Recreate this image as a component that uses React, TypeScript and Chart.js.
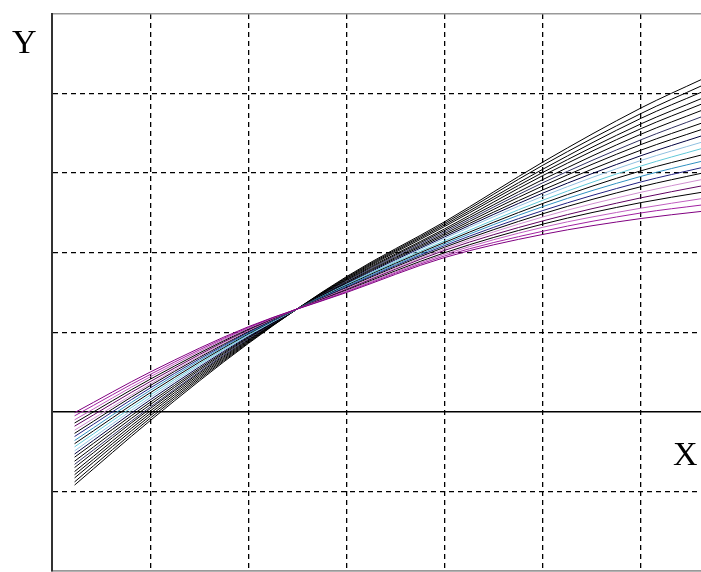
import React, { useEffect, useRef } from "react";
import { Chart, registerables } from "chart.js";

Chart.register(...registerables);

const xPoints = [0.23, 1, 2, 3, 4, 5, 6, 6.62];

// curves, from the flattest (purple) to the steepest (black)
const c00 = [-0.01, 0.5, 1.07, 1.5, 1.94, 2.23, 2.43, 2.52];
const c01 = [-0.05, 0.47, 1.06, 1.51, 1.96, 2.27, 2.5, 2.6];
const c02 = [-0.1, 0.44, 1.05, 1.52, 1.98, 2.32, 2.56, 2.68];
const c03 = [-0.14, 0.41, 1.04, 1.53, 2.0, 2.36, 2.63, 2.76];
const c04 = [-0.18, 0.38, 1.03, 1.54, 2.03, 2.4, 2.69, 2.84];
const c05 = [-0.23, 0.35, 1.02, 1.55, 2.05, 2.45, 2.76, 2.92];
const c06 = [-0.27, 0.33, 1.01, 1.56, 2.07, 2.49, 2.83, 3.0];
const c07 = [-0.31, 0.3, 1.0, 1.57, 2.09, 2.53, 2.89, 3.07];
const c08 = [-0.36, 0.27, 0.99, 1.58, 2.11, 2.58, 2.96, 3.15];
const c09 = [-0.4, 0.24, 0.98, 1.59, 2.13, 2.62, 3.03, 3.23];
const c10 = [-0.44, 0.21, 0.97, 1.6, 2.15, 2.66, 3.09, 3.31];
const c11 = [-0.49, 0.18, 0.96, 1.6, 2.18, 2.71, 3.16, 3.39];
const c12 = [-0.53, 0.15, 0.95, 1.61, 2.2, 2.75, 3.22, 3.47];
const c13 = [-0.57, 0.12, 0.94, 1.62, 2.22, 2.79, 3.29, 3.55];
const c14 = [-0.62, 0.09, 0.93, 1.63, 2.24, 2.84, 3.36, 3.63];
const c15 = [-0.66, 0.06, 0.92, 1.64, 2.26, 2.88, 3.42, 3.71];
const c16 = [-0.7, 0.04, 0.91, 1.65, 2.28, 2.92, 3.49, 3.79];
const c17 = [-0.75, 0.01, 0.9, 1.66, 2.3, 2.97, 3.56, 3.87];
const c18 = [-0.79, -0.02, 0.89, 1.67, 2.33, 3.01, 3.62, 3.94];
const c19 = [-0.83, -0.05, 0.88, 1.68, 2.35, 3.05, 3.69, 4.02];
const c20 = [-0.88, -0.08, 0.87, 1.69, 2.37, 3.1, 3.75, 4.1];
const c21 = [-0.92, -0.11, 0.86, 1.7, 2.39, 3.14, 3.82, 4.18];

const curves = [c00, c01, c02, c03, c04, c05, c06, c07, c08, c09, c10, c11, c12, c13, c14, c15, c16, c17, c18, c19, c20, c21];

const curveColors = [
  "#800080", "#a020a0", "#c060c0", "#000000", "#600060", "#d090d0",
  "#000000", "#202080", "#3090c0", "#000000", "#60c8d8", "#90c0e0",
  "#000040", "#000000", "#000000", "#303060", "#000000", "#000000",
  "#000000", "#000000", "#000000", "#000000",
];

export default function App() {
  const ref = useRef<HTMLCanvasElement | null>(null);

  useEffect(() => {
    if (!ref.current) return;
    const chart = new Chart(ref.current, {
      type: "line",
      data: {
        datasets: curves.map((c, i) => ({
          data: xPoints.map((x, j) => ({ x, y: c[j] })),
          borderColor: curveColors[i],
          borderWidth: 1,
          pointRadius: 0,
          cubicInterpolationMode: "monotone" as const,
          fill: false,
        })),
      },
      options: {
        animation: false,
        responsive: false,
        layout: { padding: { left: 52, top: 14, bottom: 1, right: 0 } },
        plugins: { legend: { display: false }, tooltip: { enabled: false } },
        scales: {
          x: {
            type: "linear",
            min: 0,
            max: 6.61,
            ticks: { display: false, stepSize: 1, includeBounds: false },
            grid: {
              drawTicks: false,
              color: (ctx: any) => (ctx.tick && ctx.tick.value === 0 ? "#333" : "#000"),
              lineWidth: (ctx: any) => (ctx.tick && ctx.tick.value === 0 ? 2 : 1.3),
            },
            border: {
              display: true,
              color: "#999",
              width: 1.5,
              dash: (ctx: any) => (ctx.tick && ctx.tick.value === 0 ? [] : [5, 4]),
            },
          },
          y: {
            type: "linear",
            min: -2,
            max: 5,
            ticks: { display: false, stepSize: 1 },
            grid: {
              drawTicks: false,
              color: (ctx: any) => {
                const v = ctx.tick ? ctx.tick.value : null;
                if (v === 5 || v === -2) return "#999";
                return "#000";
              },
              lineWidth: (ctx: any) => {
                const v = ctx.tick ? ctx.tick.value : null;
                if (v === 5 || v === -2) return 1.5;
                if (v === 0) return 1.5;
                return 1.3;
              },
            },
            border: {
              display: true,
              color: "#333",
              width: 2,
              dash: (ctx: any) => {
                const v = ctx.tick ? ctx.tick.value : null;
                if (v === 0 || v === 5 || v === -2) return [];
                return [5, 4];
              },
            },
          },
        },
      },
    });
    return () => chart.destroy();
  }, []);

  const labelStyle: React.CSSProperties = {
    position: "absolute",
    fontFamily: "'Liberation Serif', 'DejaVu Serif', serif",
    fontSize: 34,
    lineHeight: "34px",
    color: "#000",
    margin: 0,
  };

  return (
    <div style={{ position: "absolute", left: 0, top: 0, width: 701, height: 572, background: "#fff", overflow: "hidden" }}>
      <canvas ref={ref} width={701} height={572} style={{ display: "block" }} />
      <div style={{ ...labelStyle, left: 12, top: 25 }}>Y</div>
      <div style={{ ...labelStyle, left: 673, top: 437 }}>X</div>
    </div>
  );
}
